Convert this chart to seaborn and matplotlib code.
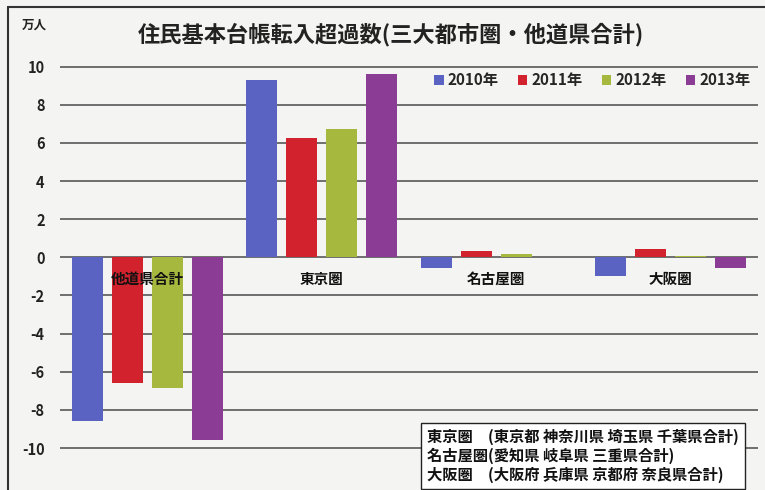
import matplotlib
matplotlib.use("Agg")
import matplotlib.pyplot as plt
from matplotlib.patches import Patch
from matplotlib.lines import Line2D
import seaborn as sns
import pandas as pd

# Net in-migration (10,000 persons) by region and year
categories = ["他道県合計", "東京圏", "名古屋圏", "大阪圏"]
years = ["2010年", "2011年", "2012年", "2013年"]
v2010 = [-8.60, 9.28, -0.55, -0.98]
v2011 = [-6.57, 6.26, 0.33, 0.43]
v2012 = [-6.83, 6.72, 0.20, 0.05]
v2013 = [-9.58, 9.63, 0.02, -0.58]
yticks = [-10, -8, -6, -4, -2, 0, 2, 4, 6, 8, 10]

title = "住民基本台帳転入超過数(三大都市圏・他道県合計)"
unit = "万人"
note_lines = [
    "東京圏　(東京都 神奈川県 埼玉県 千葉県合計)",
    "名古屋圏(愛知県 岐阜県 三重県合計)",
    "大阪圏　(大阪府 兵庫県 京都府 奈良県合計)",
]
colors = ["#5a63c2", "#d2222d", "#a6b83e", "#8b3c95"]

rows = []
for yr, vals in zip(years, [v2010, v2011, v2012, v2013]):
    for cat, v in zip(categories, vals):
        rows.append({"region": cat, "year": yr, "value": v})
df = pd.DataFrame(rows)

sns.set_theme(style="white")
plt.rcParams["font.family"] = ["Noto Sans CJK JP", "DejaVu Sans"]

bg = "#f4f4f2"
W, H = 765, 490
fig = plt.figure(figsize=(W / 100, H / 100), dpi=100, facecolor=bg)

# axes box in pixel units -> figure fraction
ext = 0.1
ppu = 19.1
left_px, right_px = 60, 758
top_px = 66.7 - ext * ppu
bot_px = 448.0 + ext * ppu
ax = fig.add_axes([left_px / W, 1 - bot_px / H,
                   (right_px - left_px) / W, (bot_px - top_px) / H])
ax.set_facecolor(bg)

sns.barplot(data=df, x="region", y="value", hue="year", order=categories,
            hue_order=years, palette=colors, width=0.915, gap=0.225,
            saturation=1, ax=ax, zorder=3, legend=True,
            edgecolor="none", linewidth=0)

ax.set_ylim(-10 - ext, 10 + ext)
ax.set_xlim(-0.5, len(categories) - 0.5)
ax.set_yticks(yticks)
ax.set_yticklabels([str(t) for t in yticks], fontsize=10.5, fontweight="bold",
                   color="#222222")
ax.set_xticks([])
ax.set_xlabel("")
ax.set_ylabel("")
ax.tick_params(axis="y", length=0, pad=11)
for s in ax.spines.values():
    s.set_visible(False)
for t in yticks:
    ax.axhline(t, color="#4a4a4a", lw=1.1, zorder=1)

# category names sit just below the zero line, over the bars
for i, cat in enumerate(categories):
    ax.text(i, -0.72, cat, ha="center", va="top", fontsize=10.5,
            fontweight="bold", color="#111111", zorder=5)

handles = [Patch(facecolor=c, edgecolor="none") for c in colors]
ax.legend(handles, years, ncol=4, loc="upper right",
          bbox_to_anchor=(1.0, 1.0), frameon=False,
          prop={"weight": "bold", "size": 11}, handlelength=0.6,
          handleheight=0.6, handletextpad=0.25, columnspacing=1.3,
          borderaxespad=0.1)

fig.text(138 / W, 1 - 35 / H, title, ha="left", va="center", fontsize=16,
         fontweight="bold", color="#222222")
fig.text(22 / W, 1 - 25 / H, unit, ha="left", va="center", fontsize=9,
         fontweight="bold", color="#222222")

fig.text(427 / W, 1 - 456 / H, "\n".join(note_lines), ha="left",
         va="center", fontsize=11, fontweight="bold", color="#111111",
         linespacing=1.2,
         bbox=dict(boxstyle="square,pad=0.4", facecolor="white",
                   edgecolor="#222222", linewidth=1.0))

# outer frame
fig.add_artist(Line2D([8 / W, 1], [1 - 7 / H, 1 - 7 / H],
                      transform=fig.transFigure, color="#333333", lw=1.5))
fig.add_artist(Line2D([8 / W, 8 / W], [0, 1 - 7 / H],
                      transform=fig.transFigure, color="#333333", lw=1.5))

fig.savefig("out.png", dpi=100, facecolor=bg)
